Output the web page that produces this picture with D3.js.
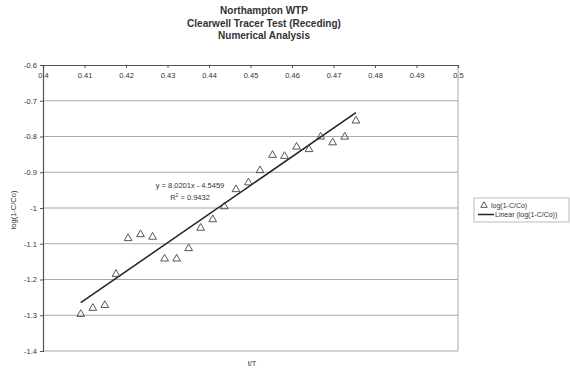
<!DOCTYPE html>
<html>
<head>
<meta charset="utf-8">
<script src="https://cdn.jsdelivr.net/npm/d3@7"></script>
<style>
  body { margin: 0; background: #fff; }
  text { font-family: "Liberation Sans", Arial, sans-serif; fill: #333; }
</style>
</head>
<body>
<div id="chart"></div>
<script>
const width = 570,
    height = 373

const titleLines = ["Northampton WTP", "Clearwell Tracer Test (Receding)", "Numerical Analysis"]

// t/T and log(1-C/Co)
const tT = [0.4091, 0.4120, 0.4149, 0.4176, 0.4205, 0.4235, 0.4264, 0.4293, 0.4322, 0.4351,
    0.4380, 0.4409, 0.4437, 0.4465, 0.4495, 0.4523, 0.4553, 0.4582, 0.4611, 0.4641,
    0.4669, 0.4698, 0.4727, 0.4754]
const logC = [-1.297, -1.280, -1.272, -1.185, -1.085, -1.074, -1.081, -1.142, -1.142, -1.113,
    -1.056, -1.032, -0.996, -0.948, -0.929, -0.895, -0.852, -0.855, -0.829, -0.836,
    -0.801, -0.817, -0.801, -0.756]

const xTicks = [0.4, 0.41, 0.42, 0.43, 0.44, 0.45, 0.46, 0.47, 0.48, 0.49, 0.5]
const yTicks = [-0.6, -0.7, -0.8, -0.9, -1, -1.1, -1.2, -1.3, -1.4]

const slope = 8.0201,
    intercept = -4.5459
const eqLabel = "y = 8.0201x - 4.5459"
const r2Label = "0.9432"

const colors = {
    grid: "#a8a8a8",
    axis: "#555",
    mark: "#444",
    line: "#222"
}

const margin = { left: 43, top: 65, right: 458, bottom: 351 }

const svg = d3.select("#chart")
    .append("svg")
        .attr("width", width)
        .attr("height", height)

const x = d3.scaleLinear().domain([0.4, 0.5]).range([margin.left, margin.right])
const y = d3.scaleLinear().domain([-0.6, -1.4]).range([margin.top, margin.bottom])

// title
svg.append("g").selectAll("text")
    .data(titleLines)
    .enter()
    .append("text")
        .attr("x", 264)
        .attr("y", (d, i) => 14 + i * 12.5)
        .attr("text-anchor", "middle")
        .attr("font-size", 10)
        .attr("font-weight", "bold")
        .text(d => d)

// horizontal gridlines
svg.append("g").selectAll("line")
    .data(yTicks.slice(1))
    .enter()
    .append("line")
        .attr("x1", margin.left)
        .attr("x2", margin.right)
        .attr("y1", d => y(d))
        .attr("y2", d => y(d))
        .attr("stroke", colors.grid)
        .attr("stroke-width", 1.2)

// right border
svg.append("line")
    .attr("x1", margin.right).attr("x2", margin.right)
    .attr("y1", margin.top).attr("y2", margin.bottom)
    .attr("stroke", colors.grid)
    .attr("stroke-width", 1)

// y axis (plain hyphen minus, like the original)
const yAxis = d3.axisLeft(y)
    .tickValues(yTicks)
    .tickSize(3)
    .tickFormat(d => String(d))
const gy = svg.append("g")
    .attr("transform", `translate(${margin.left},0)`)
    .call(yAxis)
gy.select(".domain").attr("stroke", colors.axis).attr("stroke-width", 1.2)
gy.selectAll(".tick line").attr("stroke", colors.axis)
gy.selectAll(".tick text")
    .attr("font-size", 7.5)
    .attr("font-family", "Liberation Sans, Arial, sans-serif")
    .attr("fill", "#333")
    .attr("x", -6)

// x axis sits on the top (-0.6) with labels underneath
const xAxis = d3.axisBottom(x)
    .tickValues(xTicks)
    .tickSize(3)
    .tickFormat(d => String(d))
const gx = svg.append("g")
    .attr("transform", `translate(0,${margin.top})`)
    .call(xAxis)
gx.select(".domain").attr("stroke", colors.axis).attr("stroke-width", 1.2)
gx.selectAll(".tick line").attr("stroke", colors.axis)
gx.selectAll(".tick text")
    .attr("font-size", 7.5)
    .attr("font-family", "Liberation Sans, Arial, sans-serif")
    .attr("fill", "#333")
    .attr("y", 8)

// axis titles
svg.append("text")
    .attr("transform", `translate(16,${(margin.top + margin.bottom) / 2 + 2}) rotate(-90)`)
    .attr("text-anchor", "middle")
    .attr("font-size", 7.5)
    .text("log(1-C/Co)")

svg.append("text")
    .attr("x", 252)
    .attr("y", 366)
    .attr("text-anchor", "middle")
    .attr("font-size", 7.5)
    .text("t/T")

// linear trendline
const xMin = d3.min(tT), xMax = d3.max(tT)
svg.append("line")
    .attr("x1", x(xMin))
    .attr("y1", y(slope * xMin + intercept))
    .attr("x2", x(xMax))
    .attr("y2", y(slope * xMax + intercept))
    .attr("stroke", colors.line)
    .attr("stroke-width", 1.5)

// data points
const tri = d3.symbol().type(d3.symbolTriangle).size(26)
svg.append("g").selectAll("path")
    .data(tT)
    .enter()
    .append("path")
        .attr("d", tri)
        .attr("transform", (d, i) => `translate(${x(d)},${y(logC[i])})`)
        .attr("fill", "none")
        .attr("stroke", colors.mark)
        .attr("stroke-width", 0.9)

// equation
svg.append("text")
    .attr("x", 190)
    .attr("y", 188)
    .attr("text-anchor", "middle")
    .attr("font-size", 7.5)
    .text(eqLabel)
const r2 = svg.append("text")
    .attr("x", 190)
    .attr("y", 200)
    .attr("text-anchor", "middle")
    .attr("font-size", 7.5)
r2.append("tspan").text("R")
r2.append("tspan").attr("font-size", 5).attr("dy", -3).text("2")
r2.append("tspan").attr("dy", 3).text(" = " + r2Label)

// legend
const legend = svg.append("g").attr("transform", "translate(474,198)")
legend.append("rect")
    .attr("width", 95)
    .attr("height", 24)
    .attr("fill", "#fff")
    .attr("stroke", "#aaa")
    .attr("stroke-width", 0.8)
legend.append("path")
    .attr("d", tri.size(18))
    .attr("transform", "translate(10,7.5)")
    .attr("fill", "none")
    .attr("stroke", colors.mark)
    .attr("stroke-width", 0.9)
legend.append("text")
    .attr("x", 17)
    .attr("y", 10)
    .attr("font-size", 7)
    .text("log(1-C/Co)")
legend.append("line")
    .attr("x1", 4).attr("x2", 20)
    .attr("y1", 16.5).attr("y2", 16.5)
    .attr("stroke", colors.line)
    .attr("stroke-width", 1.5)
legend.append("text")
    .attr("x", 21)
    .attr("y", 19)
    .attr("font-size", 7)
    .text("Linear (log(1-C/Co))")
</script>
</body>
</html>
